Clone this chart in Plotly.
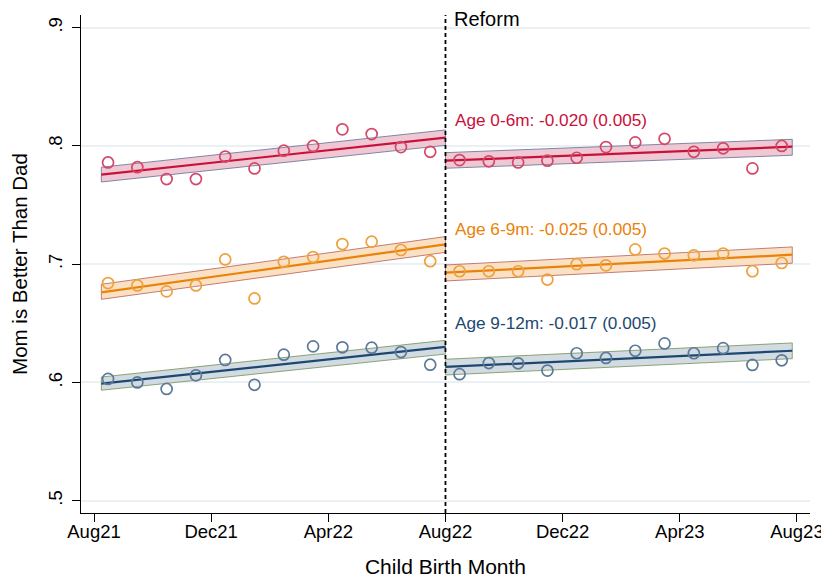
import plotly.graph_objects as go

# ---------------- data ----------------
month_labels = ["Aug21", "Dec21", "Apr22", "Aug22", "Dec22", "Apr23", "Aug23"]
month_ticks = [0, 4, 8, 12, 16, 20, 24]          # months since Aug 2021

pre_months = list(range(0, 12))                   # Aug21 .. Jul22
post_months = list(range(12, 24))                 # Aug22 .. Jul23
mid_offset = 0.48                                 # points plotted mid-month

# Age 0-6m
red_pre = [0.786, 0.782, 0.772, 0.772, 0.791, 0.781, 0.796, 0.800, 0.814, 0.810, 0.799, 0.795]
red_post = [0.788, 0.787, 0.786, 0.7875, 0.790, 0.799, 0.803, 0.806, 0.795, 0.798, 0.781, 0.800]
# Age 6-9m
org_pre = [0.684, 0.682, 0.677, 0.682, 0.704, 0.671, 0.702, 0.706, 0.717, 0.719, 0.712, 0.7025]
org_post = [0.694, 0.694, 0.694, 0.687, 0.700, 0.699, 0.7125, 0.709, 0.7075, 0.709, 0.694, 0.701]
# Age 9-12m
blu_pre = [0.603, 0.600, 0.5945, 0.606, 0.619, 0.598, 0.6235, 0.6305, 0.6297, 0.6294, 0.6257, 0.615]
blu_post = [0.607, 0.6164, 0.6162, 0.610, 0.6247, 0.6207, 0.6268, 0.633, 0.6247, 0.629, 0.6148, 0.6187]

# fitted lines (start, end) and CI bounds (start, end)
fit_x_pre = [0.25, 12.0]
fit_x_post = [12.0, 23.84]
red_fit_pre, red_lo_pre, red_hi_pre = [0.7757, 0.8070], [0.7695, 0.8005], [0.7820, 0.8135]
red_fit_post, red_lo_post, red_hi_post = [0.7875, 0.7994], [0.7811, 0.7921], [0.7943, 0.8056]
org_fit_pre, org_lo_pre, org_hi_pre = [0.6762, 0.7168], [0.6703, 0.7100], [0.6830, 0.7233]
org_fit_post, org_lo_post, org_hi_post = [0.6928, 0.7080], [0.6858, 0.7008], [0.6993, 0.7146]
blu_fit_pre, blu_lo_pre, blu_hi_pre = [0.5990, 0.6300], [0.5934, 0.6240], [0.6046, 0.6356]
blu_fit_post, blu_lo_post, blu_hi_post = [0.6131, 0.6268], [0.6063, 0.6201], [0.6196, 0.6334]

labels = ["Age 0-6m: -0.020 (0.005)", "Age 6-9m: -0.025 (0.005)", "Age 9-12m: -0.017 (0.005)"]
label_y = [0.822, 0.7295, 0.650]

y_ticks = [0.5, 0.6, 0.7, 0.8, 0.9]
y_ticktext = [".5", ".6", ".7", ".8", ".9"]

# ---------------- styles ----------------
groups = [
    dict(pre=red_pre, post=red_post,
         fit=(red_fit_pre, red_fit_post), lo=(red_lo_pre, red_lo_post), hi=(red_hi_pre, red_hi_post),
         line="rgb(200,16,60)", marker="rgb(212,72,104)",
         fill="rgba(238,194,206,0.9)", edge="rgb(95,110,150)"),
    dict(pre=org_pre, post=org_post,
         fit=(org_fit_pre, org_fit_post), lo=(org_lo_pre, org_lo_post), hi=(org_hi_pre, org_hi_post),
         line="rgb(234,130,10)", marker="rgb(240,160,60)",
         fill="rgba(251,222,190,0.9)", edge="rgb(180,95,85)"),
    dict(pre=blu_pre, post=blu_post,
         fit=(blu_fit_pre, blu_fit_post), lo=(blu_lo_pre, blu_lo_post), hi=(blu_hi_pre, blu_hi_post),
         line="rgb(28,72,112)", marker="rgb(92,122,152)",
         fill="rgba(208,216,224,0.95)", edge="rgb(115,145,85)"),
]

fig = go.Figure()

xs_pre = [m + mid_offset for m in pre_months]
xs_post = [m + mid_offset for m in post_months]

# bands
for g in groups:
    for fx, lo, hi in [(fit_x_pre, g["lo"][0], g["hi"][0]), (fit_x_post, g["lo"][1], g["hi"][1])]:
        fig.add_trace(go.Scatter(
            x=fx + fx[::-1] + [fx[0]], y=hi + lo[::-1] + [hi[0]],
            mode="lines", fill="toself", fillcolor=g["fill"],
            line=dict(color=g["edge"], width=0.8), hoverinfo="skip", showlegend=False))
# fitted lines
for g in groups:
    for fx, fy in [(fit_x_pre, g["fit"][0]), (fit_x_post, g["fit"][1])]:
        fig.add_trace(go.Scatter(x=fx, y=fy, mode="lines",
                                 line=dict(color=g["line"], width=2.2), showlegend=False))
# markers
for g in groups:
    fig.add_trace(go.Scatter(
        x=xs_pre + xs_post, y=g["pre"] + g["post"], mode="markers",
        marker=dict(symbol="circle-open", size=11, color=g["marker"], line=dict(width=1.7)),
        showlegend=False))

# reform line
fig.add_shape(type="line", x0=12, x1=12, y0=0, y1=1, xref="x", yref="paper",
              line=dict(color="black", width=1.8, dash="4px,3px"))
fig.add_annotation(x=12.22, y=1.0, xref="x", yref="paper", text="Reform",
                   showarrow=False, xanchor="left", yanchor="middle", yshift=-4,
                   font=dict(size=20, color="black"))

for txt, yy, g in zip(labels, label_y, groups):
    fig.add_annotation(x=12.25, y=yy, text=txt, showarrow=False,
                       xanchor="left", yanchor="middle",
                       font=dict(size=17.2, color=g["line"]))

# page body has an 8px default margin, so the figure is sized to fit the window
fig.update_layout(
    width=821, height=575,
    margin=dict(l=73, r=19, t=7, b=70, autoexpand=False),
    paper_bgcolor="white", plot_bgcolor="white",
    font=dict(family="Liberation Sans, Arial, sans-serif", color="black"),
    showlegend=False,
)
fig.update_xaxes(
    range=[-0.444, 24.446], tickmode="array", tickvals=month_ticks, ticktext=month_labels,
    automargin=False,
    showgrid=False, zeroline=False, showline=True, linecolor="black", linewidth=1.2,
    ticks="outside", ticklen=8, tickwidth=1.2, tickcolor="black",
    tickfont=dict(size=18.5), ticklabelstandoff=-6,
    title=dict(text="Child Birth Month", font=dict(size=21), standoff=18),
)
fig.update_yaxes(
    range=[0.4896, 0.9107], tickmode="array", tickvals=y_ticks, ticktext=y_ticktext,
    tickangle=-90, automargin=False,
    showgrid=True, gridcolor="rgb(234,240,243)", gridwidth=1.5, zeroline=False,
    showline=True, linecolor="black", linewidth=1.2,
    ticks="outside", ticklen=8, tickwidth=1.2, tickcolor="black",
    tickfont=dict(size=18.5), ticklabelstandoff=3,
    title=dict(text="Mom is Better Than Dad", font=dict(size=20.5), standoff=17),
)

fig.write_html("out.html")
